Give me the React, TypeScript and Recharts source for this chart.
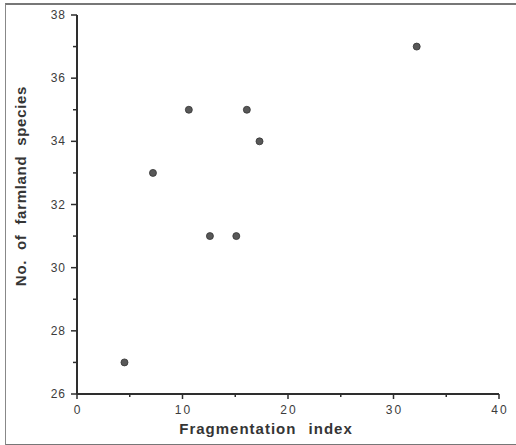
import React from "react";
import { ScatterChart, Scatter, XAxis, YAxis } from "recharts";

const fragIndex = [4.5, 7.2, 10.6, 12.6, 15.1, 16.1, 17.3, 32.2];
const farmlandSpecies = [27, 33, 35, 31, 31, 35, 34, 37];
const xTicks = [0, 5, 10, 15, 20, 25, 30, 35, 40];
const yTicks = [26, 27, 28, 29, 30, 31, 32, 33, 34, 35, 36, 37, 38];

const points = fragIndex.map((x, i) => ({ x, y: farmlandSpecies[i] }));

const INK = "#2e2e2e";
const TICK_TEXT = "#3c3c3c";
const FONT = "Liberation Sans, Arial, sans-serif";

function YTick(props: any) {
  const { x, y, payload } = props;
  const major = payload.value % 2 === 0;
  return (
    <g>
      <line x1={x - (major ? 6 : 4)} x2={x} y1={y} y2={y} stroke={INK} strokeWidth={1.5} />
      {major && (
        <text
          x={x - 11}
          y={y}
          dy={4}
          textAnchor="end"
          fill={TICK_TEXT}
          fontSize={12}
          letterSpacing={1}
          fontFamily={FONT}
        >
          {payload.value}
        </text>
      )}
    </g>
  );
}

function XTick(props: any) {
  const { x, y, payload } = props;
  const major = payload.value % 10 === 0;
  return (
    <g>
      <line x1={x} x2={x} y1={y} y2={y + (major ? 5 : 3)} stroke={INK} strokeWidth={1.5} />
      {major && (
        <text
          x={x + 1}
          y={y + 20}
          textAnchor="middle"
          fill={TICK_TEXT}
          fontSize={12}
          letterSpacing={2}
          fontFamily={FONT}
        >
          {payload.value}
        </text>
      )}
    </g>
  );
}

const labelStyle = {
  fontFamily: FONT,
  fontWeight: "bold" as const,
  fontSize: 15,
  fill: "#353535",
};

export default function App() {
  return (
    <div
      style={{
        position: "absolute",
        left: 0,
        top: 0,
        width: 516,
        height: 445,
        background: "#fff",
      }}
    >
      <div
        style={{
          position: "absolute",
          left: 5,
          top: 3,
          width: 520,
          height: 439,
          borderTop: "2px solid #777",
          borderLeft: "1.5px solid #888",
          borderBottom: "2px solid #777",
        }}
      />
      <div style={{ position: "absolute", left: 0, top: 0 }}>
        <ScatterChart
          width={516}
          height={445}
          margin={{ top: 15, right: 17, bottom: 0, left: 0 }}
        >
          <XAxis
            type="number"
            dataKey="x"
            domain={[0, 40]}
            ticks={xTicks}
            interval={0}
            height={51}
            tickSize={0}
            tickMargin={0}
            tickLine={false}
            axisLine={{ stroke: INK, strokeWidth: 2 }}
            tick={<XTick />}
            label={{
              position: "insideBottom",
              content: () => (
                <text
                  x={266}
                  y={434}
                  textAnchor="middle"
                  letterSpacing={1}
                  wordSpacing={7}
                  style={labelStyle}
                >
                  Fragmentation index
                </text>
              ),
            }}
          />
          <YAxis
            type="number"
            dataKey="y"
            domain={[26, 38]}
            ticks={yTicks}
            interval={0}
            width={77}
            tickSize={0}
            tickMargin={0}
            tickLine={false}
            axisLine={{ stroke: INK, strokeWidth: 2 }}
            tick={<YTick />}
            label={{
              position: "insideLeft",
              content: () => (
                <text
                  x={26}
                  y={186}
                  transform="rotate(-90 26 186)"
                  textAnchor="middle"
                  letterSpacing={0.7}
                  wordSpacing={5}
                  style={labelStyle}
                >
                  No. of farmland species
                </text>
              ),
            }}
          />
          <Scatter
            data={points}
            fill="#585858"
            isAnimationActive={false}
            shape={(p: any) => (
              <circle cx={p.cx} cy={p.cy} r={3.5} fill="#585858" stroke="#333" strokeWidth={0.8} />
            )}
          />
        </ScatterChart>
      </div>
    </div>
  );
}
